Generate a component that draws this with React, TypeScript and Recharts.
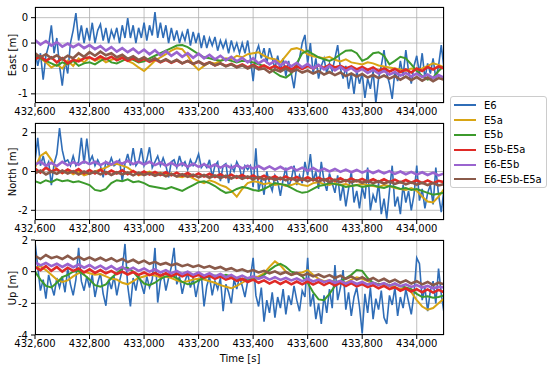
import React from 'react';
import { LineChart, Line, XAxis, YAxis, CartesianGrid } from 'recharts';

// time axis
const T0 = 432600;
const STEP_E6 = 10;
const STEP = 20;
const xTicks = [432600, 432800, 433000, 433200, 433400, 433600, 433800, 434000];

// ---------- East [m] ----------
const eastE6 = [
  -0.15, -0.45, -0.2, -0.72, -0.25, -0.05, 0.35, -0.2, 0.1, -0.45,
  -0.84, -0.35, -0.6, 0.0, 0.25, 0.59, 0.05, 0.35, 0.0, 0.3,
  0.05, 0.4, 0.0, 0.25, 0.37, 0.05, 0.3, 0.0, 0.25, 0.1,
  0.3, 0.0, 0.35, 0.1, 0.49, 0.1, 0.35, 0.0, 0.3, 0.1,
  0.4, 0.05, 0.35, 0.15, 0.61, 0.1, 0.4, 0.1, 0.35, 0.0,
  0.3, 0.05, 0.25, 0.0, 0.2, 0.05, 0.28, -0.05, 0.22, 0.0,
  0.2, -0.1, 0.15, -0.1, 0.1, -0.05, 0.12, -0.15, 0.05, -0.1,
  0.05, -0.2, 0.05, -0.15, 0.0, -0.2, 0.0, -0.2, 0.05, -0.3,
  -0.75, -0.2, -0.05, -0.3, -0.1, -0.4, -0.1, -0.3, -0.5, -0.25,
  -0.55, -0.3, -0.65, -0.35, -0.6, -0.89, -0.45, -0.3, 0.0, 0.16,
  -0.4, 0.0, -0.6, -0.3, -0.7, -0.45, -0.3, -0.6, -0.4, -0.55,
  -0.3, -0.04, -0.5, -0.7, -0.45, -0.9, -0.6, -1.0, -0.55, -0.8,
  -0.6, -1.08, -0.7, -0.9, -0.55, -1.18, -0.7, -0.45, -0.14, -0.6,
  -0.8, -1.1, -0.55, -0.75, -0.35, -0.65, -0.14, -0.55, -0.8, -0.45,
  -0.25, -0.6, -0.2, -0.7, -0.4, -0.6, -0.3, -0.7, -0.45, -0.04, -0.5,
];
const eastE5a = [
  -0.2, -0.3, -0.38, -0.48, -0.42, -0.5, -0.35, -0.45, -0.3, -0.38,
  -0.28, -0.35, -0.3, -0.38, -0.33, -0.3, -0.25, -0.35, -0.4, -0.48,
  -0.55, -0.45, -0.35, -0.28, -0.22, -0.15, -0.1, -0.12, -0.25, -0.42,
  -0.53, -0.45, -0.38, -0.4, -0.35, -0.3, -0.32, -0.25, -0.28, -0.22,
  -0.2, -0.18, -0.25, -0.3, -0.32, -0.38, -0.25, -0.12, -0.1, -0.14,
  -0.22, -0.26, -0.28, -0.3, -0.27, -0.33, -0.36, -0.32, -0.38, -0.4,
  -0.42, -0.38, -0.4, -0.44, -0.46, -0.48, -0.5, -0.52, -0.55, -0.5,
  -0.53, -0.5, -0.45, -0.4, -0.43, -0.48,
];
const eastE5b = [
  -0.22, -0.3, -0.35, -0.4, -0.45, -0.38, -0.42, -0.35, -0.45, -0.4,
  -0.38, -0.42, -0.35, -0.3, -0.38, -0.4, -0.35, -0.3, -0.33, -0.38,
  -0.36, -0.3, -0.25, -0.2, -0.15, -0.1, -0.05, -0.04, -0.08, -0.15,
  -0.22, -0.28, -0.3, -0.33, -0.35, -0.32, -0.35, -0.38, -0.35, -0.36,
  -0.38, -0.42, -0.45, -0.5, -0.58, -0.65, -0.68, -0.6, -0.4, -0.2,
  -0.15, -0.22, -0.28, -0.32, -0.35, -0.3, -0.22, -0.15, -0.14, -0.2,
  -0.35, -0.3, -0.2, -0.18, -0.25, -0.42, -0.35, -0.27, -0.3, -0.42,
  -0.55, -0.65, -0.72, -0.68, -0.55, -0.45,
];
const eastE5bE5a = [
  -0.32, -0.26, -0.35, -0.28, -0.38, -0.3, -0.4, -0.33, -0.36, -0.3,
  -0.28, -0.33, -0.26, -0.32, -0.27, -0.34, -0.29, -0.35, -0.3, -0.36,
  -0.31, -0.37, -0.32, -0.38, -0.33, -0.39, -0.34, -0.4, -0.35, -0.41,
  -0.37, -0.42, -0.38, -0.44, -0.4, -0.45, -0.41, -0.47, -0.42, -0.48,
  -0.43, -0.49, -0.44, -0.5, -0.45, -0.51, -0.46, -0.52, -0.46, -0.51,
  -0.45, -0.5, -0.44, -0.49, -0.43, -0.48, -0.45, -0.5, -0.46, -0.52,
  -0.47, -0.53, -0.48, -0.55, -0.5, -0.56, -0.51, -0.57, -0.52, -0.58,
  -0.5, -0.55, -0.47, -0.52, -0.46, -0.5,
];
const eastE6E5b = [
  0.06, -0.03, 0.04, -0.05, 0.02, -0.07, -0.01, -0.08, -0.02, -0.1,
  -0.04, -0.12, -0.06, -0.15, -0.08, -0.17, -0.1, -0.18, -0.11, -0.2,
  -0.13, -0.22, -0.14, -0.24, -0.16, -0.25, -0.18, -0.27, -0.2, -0.29,
  -0.21, -0.3, -0.23, -0.32, -0.25, -0.34, -0.27, -0.36, -0.29, -0.38,
  -0.3, -0.4, -0.33, -0.42, -0.35, -0.44, -0.37, -0.46, -0.39, -0.48,
  -0.41, -0.5, -0.43, -0.52, -0.45, -0.54, -0.47, -0.55, -0.49, -0.57,
  -0.51, -0.59, -0.53, -0.6, -0.55, -0.62, -0.57, -0.64, -0.59, -0.66,
  -0.6, -0.67, -0.62, -0.69, -0.63, -0.68,
];
const eastE6E5bE5a = [
  -0.2, -0.28, -0.22, -0.3, -0.24, -0.32, -0.25, -0.3, -0.2, -0.27,
  -0.18, -0.25, -0.17, -0.24, -0.2, -0.28, -0.23, -0.31, -0.26, -0.33,
  -0.28, -0.35, -0.3, -0.37, -0.32, -0.38, -0.33, -0.4, -0.35, -0.41,
  -0.36, -0.43, -0.38, -0.44, -0.4, -0.46, -0.42, -0.48, -0.44, -0.5,
  -0.45, -0.52, -0.5, -0.58, -0.52, -0.56, -0.5, -0.57, -0.52, -0.58,
  -0.54, -0.6, -0.55, -0.62, -0.57, -0.63, -0.58, -0.65, -0.6, -0.66,
  -0.61, -0.68, -0.63, -0.69, -0.64, -0.7, -0.65, -0.72, -0.66, -0.73,
  -0.67, -0.74, -0.68, -0.75, -0.69, -0.72,
];

// ---------- North [m] ----------
const northE6 = [
  0.5, 1.73, 0.3, 0.8, 0.2, 0.5, -0.7, 0.4, 0.9, 2.24,
  1.1, 0.5, 0.6, 0.3, 0.8, 0.3, 0.5, 1.73, 0.4, 1.7,
  0.5, 0.8, 0.3, 0.6, 0.3, -0.3, 0.5, 0.3, 0.7, 0.3,
  0.4, 0.6, -0.5, 0.4, 0.9, 0.3, 1.2, 0.3, 0.5, 1.2,
  0.3, 0.6, 1.25, 0.2, 0.5, 0.8, 0.3, 0.7, 0.3, -0.3,
  0.5, 0.6, 0.2, 0.8, 0.3, 0.5, 0.1, 0.6, 0.3, 0.5,
  0.9, 0.2, 0.4, 0.2, 0.6, -0.3, 0.3, 0.5, -0.5, 0.3,
  0.4, -0.6, 0.3, 0.0, 0.5, 0.2, -0.4, 0.3, 0.1, 0.3,
  -0.8, 1.2, -1.0, -0.4, -1.2, 0.0, -0.6, -1.0, -0.2, -0.5,
  -1.25, -0.4, 0.2, -0.8, -0.4, 0.3, -0.7, -0.2, -0.6, 0.5,
  -0.2, 0.9, -0.5, 0.0, -0.9, 0.5, -0.5, -1.0, -0.1, -0.6,
  -1.1, -0.2, -1.5, -0.7, -1.8, -0.9, 0.0, -1.6, -1.0, -1.9,
  -0.8, -1.4, 0.2, -2.0, -1.2, -1.6, -0.6, -2.2, -1.4, -2.43,
  -1.0, 0.3, -1.8, -1.3, -2.2, -0.7, -1.6, -1.0, -2.0, -1.2,
  0.3, -1.5, -0.9, -1.9, -1.1, -0.7, -1.7, 0.2, -1.2, -2.1, -0.9,
];
const northE5a = [
  0.2, 0.8, 1.0, 0.6, 0.1, -0.1, 0.05, -0.15, 0.0, -0.2,
  -0.1, 0.0, 0.1, 0.2, 0.35, 0.4, 0.3, 0.2, 0.0, -0.2,
  -0.1, 0.0, -0.15, -0.05, -0.2, -0.1, -0.25, -0.3, -0.2, -0.35,
  -0.5, -0.6, -0.45, -0.55, -0.7, -0.8, -1.0, -1.3, -0.9, -0.6,
  -0.5, -0.55, -0.65, -0.6, -0.7, -0.65, -0.75, -0.7, -0.6, -0.7,
  -0.75, -0.6, -0.55, -0.65, -0.7, -0.6, -0.7, -0.65, -0.75, -0.7,
  -0.65, -0.7, -0.75, -0.8, -0.7, -0.75, -0.85, -0.9, -0.95, -0.85,
  -1.0, -1.3, -1.55, -1.6, -1.3, -0.9,
];
const northE5b = [
  -0.5, -0.6, -0.45, -0.55, -0.4, -0.5, -0.45, -0.55, -0.5, -0.6,
  -0.7, -0.95, -1.0, -0.9, -0.6, -0.45, -0.5, -0.4, -0.55, -0.5,
  -0.6, -0.75, -0.8, -0.85, -0.9, -0.8, -0.9, -1.0, -0.85, -0.7,
  -0.55, -0.5, -0.6, -0.75, -0.95, -1.1, -1.05, -0.9, -0.8, -0.85,
  -0.95, -1.0, -0.9, -0.75, -0.6, -0.65, -0.7, -0.85, -1.0, -1.1,
  -1.05, -0.9, -0.75, -0.7, -0.6, -0.65, -0.7, -0.8, -0.75, -0.7,
  -0.8, -0.75, -0.7, -0.8, -0.85, -0.75, -0.8, -0.9, -0.85, -0.95,
  -0.9, -1.0, -1.1, -1.2, -1.15, -1.1,
];
const northE5bE5a = [
  0.15, -0.05, 0.2, 0.0, 0.12, -0.08, 0.1, -0.05, 0.12, -0.1,
  0.08, -0.1, 0.1, -0.12, 0.05, -0.1, 0.06, -0.14, 0.03, -0.15,
  0.0, -0.16, -0.02, -0.18, -0.04, -0.2, -0.06, -0.22, -0.08, -0.24,
  -0.1, -0.26, -0.12, -0.28, -0.14, -0.3, -0.16, -0.32, -0.18, -0.34,
  -0.2, -0.36, -0.22, -0.38, -0.24, -0.4, -0.26, -0.42, -0.28, -0.44,
  -0.3, -0.45, -0.32, -0.46, -0.33, -0.48, -0.35, -0.5, -0.36, -0.5,
  -0.38, -0.52, -0.4, -0.54, -0.4, -0.55, -0.42, -0.56, -0.44, -0.58,
  -0.45, -0.6, -0.46, -0.6, -0.48, -0.55,
];
const northE6E5b = [
  0.35, 0.5, 0.3, 0.45, 0.28, 0.5, 0.32, 0.48, 0.35, 0.52,
  0.38, 0.5, 0.33, 0.48, 0.36, 0.52, 0.4, 0.55, 0.38, 0.5,
  0.36, 0.5, 0.33, 0.46, 0.3, 0.45, 0.28, 0.42, 0.25, 0.4,
  0.24, 0.38, 0.22, 0.36, 0.2, 0.33, 0.18, 0.32, 0.16, 0.3,
  0.15, 0.28, 0.12, 0.26, 0.1, 0.24, 0.08, 0.22, 0.06, 0.2,
  0.04, 0.18, 0.02, 0.15, 0.0, 0.13, -0.02, 0.1, -0.04, 0.08,
  -0.06, 0.06, -0.08, 0.04, -0.1, 0.02, -0.12, 0.0, -0.14, -0.02,
  -0.16, -0.04, -0.18, -0.06, -0.2, -0.1,
];
const northE6E5bE5a = [
  -0.1, 0.05, -0.15, 0.0, -0.12, 0.05, -0.1, 0.02, -0.15, 0.0,
  -0.12, 0.0, -0.15, -0.02, -0.18, -0.04, -0.15, -0.05, -0.2, -0.06,
  -0.18, -0.08, -0.22, -0.1, -0.25, -0.12, -0.26, -0.14, -0.28, -0.16,
  -0.3, -0.18, -0.32, -0.2, -0.34, -0.22, -0.36, -0.24, -0.38, -0.26,
  -0.4, -0.28, -0.42, -0.3, -0.44, -0.32, -0.46, -0.34, -0.48, -0.36,
  -0.5, -0.38, -0.52, -0.4, -0.54, -0.42, -0.55, -0.44, -0.56, -0.46,
  -0.58, -0.48, -0.6, -0.5, -0.62, -0.52, -0.64, -0.54, -0.66, -0.56,
  -0.68, -0.58, -0.7, -0.6, -0.72, -0.65,
];

// ---------- Up [m] ----------
const upE6 = [
  1.9, 0.3, -1.2, -0.5, -1.7, -0.2, -0.9, -1.5, -0.4, -1.0,
  -0.3, -1.3, 0.2, -0.8, -1.5, -0.5, 1.5, -0.6, -1.2, -0.3,
  -1.0, -0.2, -1.6, -0.7, -0.1, -1.4, -2.15, -0.5, -1.1, -0.3,
  -1.5, -0.6, 0.1, 1.75, -0.9, -2.2, -0.4, -1.2, -0.2, -0.8,
  -1.4, -0.3, -1.0, -0.5, 1.5, -1.95, -0.6, -0.1, -1.2, -0.4,
  0.3, 1.5, -0.8, -0.3, -1.4, -0.6, -0.1, -1.0, -0.4, -1.6,
  -0.7, -0.2, -2.2, -0.9, -0.3, -1.5, -0.6, -1.1, -0.4, -2.5,
  -0.8, -1.3, -2.0, -0.5, -1.1, -0.3, -0.9, -1.6, -0.6, -0.4,
  0.87, -1.5, -2.2, -1.0, -3.16, -1.8, -2.6, -1.3, -2.9, -1.6,
  -2.3, -1.1, -2.7, -1.5, -2.1, -0.9, -1.8, -2.5, -1.2, -1.6,
  0.87, -2.2, -1.4, -3.0, -2.0, -3.3, -1.5, -2.6, -1.1, -2.3,
  0.42, -1.8, -1.0, 0.1, -2.4, -1.3, -2.8, -1.6, -1.0, -2.2,
  -3.9, -1.4, -2.6, -1.0, -3.0, -1.7, -2.4, -1.2, -2.9, -3.3,
  -1.5, -2.1, -1.0, -2.8, -1.6, -2.3, -1.1, -1.9, -2.7, -1.4,
  0.87, 0.5, -1.8, -1.0, -2.5, -1.2, -0.6, -2.0, 0.2, -1.4, -2.6,
];
const upE5a = [
  0.2, 0.35, 0.1, -0.2, -0.5, -0.65, -0.55, -0.3, -0.1, 0.0,
  -0.1, -0.2, -0.15, -0.3, -0.45, -0.5, -0.7, -0.8, -0.6, -0.4,
  -0.3, -0.2, -0.25, -0.35, -0.3, -0.4, -0.55, -0.65, -0.6, -0.5,
  -0.45, -0.5, -0.6, -0.7, -0.85, -0.95, -1.05, -0.9, -0.7, -0.5,
  -0.35, -0.3, -0.1, 0.3, 0.65, 0.4, 0.0, -0.2, -0.1, -0.05,
  0.1, -0.2, -0.45, -0.6, -0.55, -0.65, -0.6, -0.7, -0.5, -0.35,
  -0.45, -0.6, -0.75, -0.8, -0.85, -0.9, -1.0, -1.1, -1.05, -1.3,
  -1.8, -2.2, -2.4, -2.3, -2.0, -1.7,
];
const upE5b = [
  0.0, -0.5, -0.9, -1.0, -0.7, -0.35, -0.2, 0.0, 0.05, -0.2,
  -0.5, -0.85, -0.95, -0.8, -0.4, -0.1, 0.2, 0.25, 0.0, -0.4,
  -0.75, -0.85, -0.7, -0.45, -0.3, -0.25, -0.4, -0.65, -0.8, -0.75,
  -0.55, -0.4, -0.3, -0.25, -0.35, -0.2, -0.3, -0.45, -0.5, -0.45,
  -0.5, -0.4, -0.2, 0.1, 0.35, 0.5, 0.3, 0.0, -0.1, -0.3,
  -0.7, -1.3, -1.75, -1.8, -1.4, -0.9, -0.6, -0.4, -0.2, 0.1,
  0.05, -0.4, -0.7, -0.8, -0.75, -0.85, -0.8, -0.9, -1.0, -1.1,
  -1.4, -1.6, -1.55, -1.65, -1.6, -1.5,
];
const upE5bE5a = [
  0.3, 0.1, 0.35, 0.05, 0.3, 0.0, 0.25, 0.05, 0.2, -0.05,
  0.15, -0.08, 0.1, -0.1, 0.05, -0.15, 0.0, -0.18, -0.02, -0.2,
  -0.05, -0.22, -0.08, -0.25, -0.1, -0.28, -0.12, -0.3, -0.15, -0.32,
  -0.2, -0.38, -0.25, -0.45, -0.3, -0.5, -0.38, -0.58, -0.45, -0.65,
  -0.5, -0.7, -0.55, -0.75, -0.58, -0.78, -0.6, -0.8, -0.62, -0.8,
  -0.62, -0.82, -0.65, -0.85, -0.68, -0.88, -0.7, -0.9, -0.72, -0.92,
  -0.78, -0.98, -0.85, -1.05, -0.9, -1.1, -0.98, -1.2, -1.05, -1.25,
  -1.1, -1.3, -1.12, -1.32, -1.15, -1.3,
];
const upE6E5b = [
  0.6, 0.4, 0.55, 0.35, 0.5, 0.3, 0.48, 0.28, 0.45, 0.25,
  0.42, 0.2, 0.38, 0.16, 0.35, 0.12, 0.3, 0.08, 0.25, 0.05,
  0.2, 0.0, 0.15, -0.05, 0.1, -0.1, 0.05, -0.15, 0.0, -0.2,
  -0.05, -0.25, -0.1, -0.3, -0.15, -0.35, -0.2, -0.4, -0.25, -0.42,
  -0.3, -0.45, -0.32, -0.5, -0.35, -0.52, -0.4, -0.55, -0.42, -0.6,
  -0.45, -0.62, -0.5, -0.66, -0.55, -0.7, -0.58, -0.75, -0.6, -0.78,
  -0.65, -0.82, -0.7, -0.85, -0.72, -0.9, -0.75, -0.92, -0.8, -0.96,
  -0.85, -1.0, -0.9, -1.05, -0.95, -1.0,
];
const upE6E5bE5a = [
  1.0, 0.8, 1.05, 0.85, 0.95, 0.8, 1.0, 0.78, 0.95, 0.75,
  0.9, 0.72, 0.88, 0.7, 0.85, 0.65, 0.8, 0.6, 0.75, 0.55,
  0.7, 0.5, 0.62, 0.45, 0.55, 0.4, 0.5, 0.35, 0.45, 0.3,
  0.4, 0.25, 0.35, 0.2, 0.3, 0.12, 0.22, 0.05, 0.15, 0.0,
  0.1, -0.05, 0.05, -0.1, 0.02, -0.15, -0.02, -0.2, -0.08, -0.25,
  -0.12, -0.3, -0.18, -0.35, -0.22, -0.4, -0.25, -0.45, -0.3, -0.5,
  -0.35, -0.55, -0.4, -0.6, -0.45, -0.65, -0.5, -0.7, -0.55, -0.75,
  -0.6, -0.8, -0.65, -0.85, -0.7, -0.8,
];

const SERIES = [
  { key: 'e6', name: 'E6', color: '#2f6db7', width: 1.6 },
  { key: 'e5a', name: 'E5a', color: '#d8a514', width: 2 },
  { key: 'e5b', name: 'E5b', color: '#3c9a2c', width: 2 },
  { key: 'e5bE5a', name: 'E5b-E5a', color: '#df2a26', width: 2.6 },
  { key: 'e6E5b', name: 'E6-E5b', color: '#9a64cf', width: 2.6 },
  { key: 'e6E5bE5a', name: 'E6-E5b-E5a', color: '#8a5a4a', width: 2.6 },
];

const font = '"DejaVu Sans", Verdana, sans-serif';

function toRows(step: number, cols: Record<string, number[]>) {
  const keys = Object.keys(cols);
  return cols[keys[0]].map((_, i) => {
    const r: any = { t: T0 + i * step };
    keys.forEach((k) => (r[k] = cols[k][i]));
    return r;
  });
}

const fmtX = (v: number) => v.toLocaleString('en-US');
const fmtInt = (v: number) => (Math.abs(v) < 1 ? '0' : String(v));

type PanelProps = {
  top: number;
  plotH: number;
  label: string;
  domain: [number, number];
  yTicks: number[];
  e6: number[];
  rest: Record<string, number[]>;
};

function Panel({ top, plotH, label, domain, yTicks, e6, rest }: PanelProps) {
  const rowsE6 = toRows(STEP_E6, { e6 });
  const rows = toRows(STEP, rest);
  const tick = { fontSize: 10, fill: '#000', fontFamily: font };
  return (
    <>
      <div style={{ position: 'absolute', left: 0, top }}>
        <LineChart width={450} height={7 + plotH + 22} margin={{ top: 7, right: 6, left: 10, bottom: 0 }}>
          <CartesianGrid stroke="#b0b0b0" strokeWidth={0.8} />
          <XAxis
            type="number"
            dataKey="t"
            domain={[432600, 434100]}
            allowDataOverflow
            ticks={xTicks}
            interval={0}
            tickFormatter={fmtX}
            tick={tick}
            tickSize={4}
            tickMargin={1}
            axisLine={false}
            tickLine={{ stroke: '#000' }}
            height={22}
          />
          <YAxis
            type="number"
            domain={domain}
            allowDataOverflow
            ticks={yTicks}
            interval={0}
            tickFormatter={fmtInt}
            tick={tick}
            tickSize={4}
            tickMargin={3}
            axisLine={false}
            tickLine={{ stroke: '#000' }}
            width={25}
          />
          <Line data={rowsE6} dataKey="e6" stroke={SERIES[0].color} strokeWidth={SERIES[0].width} dot={false} isAnimationActive={false} />
          {SERIES.slice(1).map((s) => (
            <Line
              key={s.key}
              data={rows}
              dataKey={s.key}
              stroke={s.color}
              strokeWidth={s.width}
              dot={false}
              isAnimationActive={false}
            />
          ))}
        </LineChart>
      </div>
      <div
        style={{
          position: 'absolute',
          left: 35,
          top: top + 7,
          width: 409,
          height: plotH,
          border: '1px solid #000',
          boxSizing: 'border-box',
          pointerEvents: 'none',
        }}
      />
      <div
        style={{
          position: 'absolute',
          left: 12,
          top: top + 7 + plotH / 2,
          transform: 'translate(-50%, -50%) rotate(-90deg)',
          whiteSpace: 'nowrap',
          fontSize: 10,
          fontFamily: font,
        }}
      >
        {label}
      </div>
    </>
  );
}

export default function App() {
  return (
    <div style={{ position: 'absolute', left: 0, top: 0, width: 550, height: 367, background: '#fff', overflow: 'hidden', fontFamily: font }}>
      <Panel
        top={0}
        plotH={96}
        label="East [m]"
        domain={[-1.18, 0.71]}
        yTicks={[0.5, 0, -0.5, -1]}
        e6={eastE6}
        rest={{ e5a: eastE5a, e5b: eastE5b, e5bE5a: eastE5bE5a, e6E5b: eastE6E5b, e6E5bE5a: eastE6E5bE5a }}
      />
      <Panel
        top={116}
        plotH={97}
        label="North [m]"
        domain={[-2.5, 2.5]}
        yTicks={[2, 0, -2]}
        e6={northE6}
        rest={{ e5a: northE5a, e5b: northE5b, e5bE5a: northE5bE5a, e6E5b: northE6E5b, e6E5bE5a: northE6E5bE5a }}
      />
      <Panel
        top={233}
        plotH={95}
        label="Up [m]"
        domain={[-4, 2]}
        yTicks={[2, 0, -2, -4]}
        e6={upE6}
        rest={{ e5a: upE5a, e5b: upE5b, e5bE5a: upE5bE5a, e6E5b: upE6E5b, e6E5bE5a: upE6E5bE5a }}
      />
      <div style={{ position: 'absolute', left: 240, top: 358, transform: 'translate(-50%, -50%)', fontSize: 10, whiteSpace: 'nowrap' }}>
        Time [s]
      </div>
      <div
        style={{
          position: 'absolute',
          left: 450,
          top: 96,
          width: 97,
          height: 92,
          border: '1px solid #cccccc',
          borderRadius: 3,
          boxSizing: 'border-box',
          paddingTop: 1,
        }}
      >
        {SERIES.map((s) => (
          <div key={s.key} style={{ display: 'flex', alignItems: 'center', height: 14.8 }}>
            <div style={{ marginLeft: 3, width: 22, height: 2, background: s.color }} />
            <div style={{ marginLeft: 8, fontSize: 10, whiteSpace: 'nowrap' }}>{s.name}</div>
          </div>
        ))}
      </div>
    </div>
  );
}
